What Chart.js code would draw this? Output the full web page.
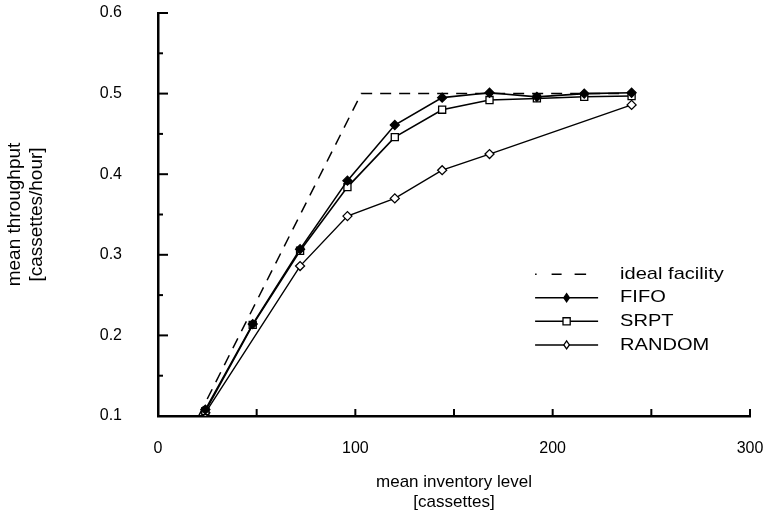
<!DOCTYPE html>
<html>
<head>
<meta charset="utf-8">
<script src="https://cdn.jsdelivr.net/npm/chart.js@4/dist/chart.umd.min.js"></script>
<style>
  html, body { margin: 0; padding: 0; background: #fff; }
  #wrap { width: 767px; height: 520px; }
</style>
</head>
<body>
<div id="wrap"><canvas id="c" width="767" height="520"></canvas></div>
<script>
// Mean inventory level [cassettes] at each simulated run
const inventoryLevels = [24, 48, 72, 96, 120, 144, 168, 192, 216, 240];
const fifoThroughput  = [0.108, 0.214, 0.307, 0.392, 0.461, 0.495, 0.501, 0.496, 0.500, 0.501];
const srptThroughput  = [0.106, 0.213, 0.305, 0.384, 0.446, 0.480, 0.492, 0.494, 0.496, 0.497];

// RANDOM dispatching was run at fewer inventory levels
const randomInventory  = [24, 72, 96, 120, 144, 168, 240];
const randomThroughput = [0.104, 0.286, 0.348, 0.370, 0.405, 0.425, 0.486];

// Ideal facility: linear until the bottleneck rate is reached
const idealInventory  = [20.6, 103, 240];
const idealThroughput = [0.1, 0.5, 0.5];

const xTickLabels = ['0', '100', '200', '300'];
const yTickLabels = ['0.1', '0.2', '0.3', '0.4', '0.5', '0.6'];

const FONT = '"Liberation Sans", Arial, Helvetica, sans-serif';

function pairs(xs, ys) { return xs.map((x, i) => ({ x: x, y: ys[i] })); }

// Inward tick marks on both axes (majors and half-step minors)
const inwardTicks = {
  id: 'inwardTicks',
  afterDraw(chart) {
    const { ctx, scales: { x, y } } = chart;
    ctx.save();
    ctx.strokeStyle = '#000';
    ctx.lineWidth = 2;
    for (let v = 0; v <= 300; v += 50) {
      const px = x.getPixelForValue(v);
      ctx.beginPath();
      ctx.moveTo(px, y.bottom);
      ctx.lineTo(px, y.bottom - 7);
      ctx.stroke();
    }
    for (let k = 0; k <= 10; k++) {
      const v = 0.1 + k * 0.05;
      const py = y.getPixelForValue(v);
      const len = (k % 2 === 0) ? 10 : 5;
      ctx.beginPath();
      ctx.moveTo(x.left, py);
      ctx.lineTo(x.left + len, py);
      ctx.stroke();
    }
    ctx.restore();
  }
};

// Legend block at the right, drawn with the same line styles and markers
const sideLegend = {
  id: 'sideLegend',
  afterDraw(chart) {
    const { ctx, chartArea: a } = chart;
    const x0 = a.left + (a.right - a.left) * 0.637;
    const x1 = x0 + 63;
    const xm = (x0 + x1) / 2;
    const tx = x1 + 22;
    const y0 = a.top + (a.bottom - a.top) * 0.648;
    const dy = 23.6;
    const items = chart.data.datasets;
    ctx.save();
    items.forEach((ds, i) => {
      const yy = y0 + i * dy;
      ctx.strokeStyle = '#000';
      ctx.lineWidth = 1.5;
      if (ds.borderDash && ds.borderDash.length) {
        ctx.setLineDash([1.5, 15, 10, 13, 10, 0]);
      } else {
        ctx.setLineDash([]);
      }
      ctx.beginPath();
      ctx.moveTo(x0, yy);
      ctx.lineTo(x1, yy);
      ctx.stroke();
      ctx.setLineDash([]);
      if (ds.pointRadius > 0) {
        ctx.fillStyle = ds.pointBackgroundColor;
        ctx.strokeStyle = '#000';
        ctx.lineWidth = 1.3;
        ctx.beginPath();
        const r = ds.pointRadius - 0.5;
        if (ds.pointStyle === 'rect') {
          ctx.rect(xm - r * 0.8, yy - r * 0.8, r * 1.6, r * 1.6);
        } else {
          ctx.moveTo(xm, yy - r); ctx.lineTo(xm + r * 0.7, yy);
          ctx.lineTo(xm, yy + r); ctx.lineTo(xm - r * 0.7, yy); ctx.closePath();
        }
        ctx.fill();
        ctx.stroke();
      }
      ctx.save();
      ctx.translate(tx, yy);
      ctx.scale(1.18, 1);
      ctx.fillStyle = '#000';
      ctx.font = '17px ' + FONT;
      ctx.textAlign = 'left';
      ctx.textBaseline = 'middle';
      ctx.fillText(ds.label, 0, 0);
      ctx.restore();
    });
    ctx.restore();
  }
};

new Chart(document.getElementById('c'), {
  type: 'scatter',
  data: {
    datasets: [
      {
        label: 'ideal facility',
        data: pairs(idealInventory, idealThroughput),
        showLine: true,
        borderColor: '#000',
        borderWidth: 1.5,
        borderDash: [11, 8],
        pointRadius: 0,
        pointBackgroundColor: '#000'
      },
      {
        label: 'FIFO',
        data: pairs(inventoryLevels, fifoThroughput),
        showLine: true,
        borderColor: '#000',
        borderWidth: 1.6,
        pointStyle: 'rectRot',
        pointRadius: 4.5,
        pointBorderWidth: 1.3,
        pointBackgroundColor: '#000',
        pointBorderColor: '#000'
      },
      {
        label: 'SRPT',
        data: pairs(inventoryLevels, srptThroughput),
        showLine: true,
        borderColor: '#000',
        borderWidth: 1.6,
        pointStyle: 'rect',
        pointRadius: 5,
        pointBorderWidth: 1.3,
        pointBackgroundColor: '#fff',
        pointBorderColor: '#000'
      },
      {
        label: 'RANDOM',
        data: pairs(randomInventory, randomThroughput),
        showLine: true,
        borderColor: '#000',
        borderWidth: 1.4,
        pointStyle: 'rectRot',
        pointRadius: 4.5,
        pointBorderWidth: 1.3,
        pointBackgroundColor: '#fff',
        pointBorderColor: '#000'
      }
    ]
  },
  options: {
    responsive: false,
    animation: false,
    layout: { padding: { left: 0, right: 17, top: 13, bottom: 0 } },
    plugins: {
      legend: { display: false },
      tooltip: { enabled: false }
    },
    scales: {
      x: {
        type: 'linear',
        min: 0,
        max: 300,
        grid: { display: false, drawTicks: false },
        border: { display: true, color: '#000', width: 2.5 },
        afterBuildTicks(scale) {
          scale.ticks = xTickLabels.map(t => ({ value: Number(t) }));
        },
        ticks: {
          padding: 23,
          color: '#000',
          font: { family: FONT, size: 16 },
          maxRotation: 0,
          callback: (v) => xTickLabels.find(t => Number(t) === v) || ''
        },
        title: {
          display: true,
          text: ['mean inventory level', '[cassettes]'],
          color: '#000',
          font: { family: FONT, size: 17 },
          padding: { top: 0, bottom: 7 }
        },
        afterFit(scale) {
          scale.height = 104;
          scale.paddingLeft = 0;
          scale.paddingRight = 0;
        }
      },
      y: {
        type: 'linear',
        min: 0.1,
        max: 0.6,
        grid: { display: false, drawTicks: false },
        border: { display: true, color: '#000', width: 2.5 },
        afterBuildTicks(scale) {
          scale.ticks = yTickLabels.map(t => ({ value: Number(t) }));
        },
        ticks: {
          padding: 36,
          color: '#000',
          font: { family: FONT, size: 16 },
          callback: (v) => yTickLabels.find(t => Math.abs(Number(t) - v) < 1e-9) || ''
        },
        title: {
          display: true,
          text: ['mean throughput', '[cassettes/hour]'],
          color: '#000',
          font: { family: FONT, size: 19 },
          padding: { top: 3, bottom: 0 }
        },
        afterFit(scale) {
          scale.width = 158;
          scale.paddingTop = 0;
          scale.paddingBottom = 0;
        }
      }
    }
  },
  plugins: [inwardTicks, sideLegend]
});
</script>
</body>
</html>
